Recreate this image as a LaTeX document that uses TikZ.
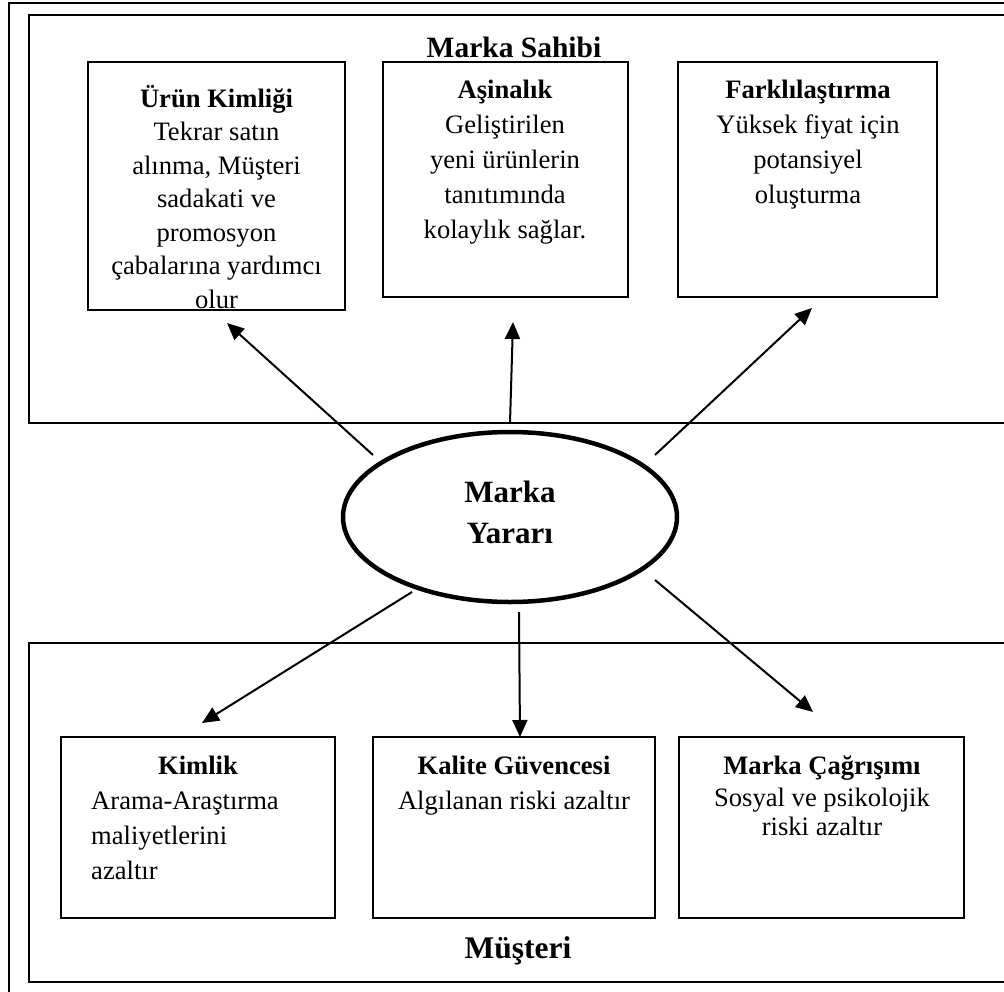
\documentclass[tikz,border=0pt]{standalone}
\usepackage{fontspec}
\setmainfont{Liberation Serif}
\usetikzlibrary{arrows.meta,shapes.geometric}

\tikzset{
  frameline/.style={draw=black, line width=1.8pt},
  box/.style={draw=black, line width=2pt, rectangle, inner sep=0pt, fill=none},
  body/.style={inner sep=0pt, align=center, font=\fontsize{26.6}{35}\selectfont},
  bodyleft/.style={inner sep=0pt, align=left, font=\fontsize{26.6}{35}\selectfont},
  region/.style={inner sep=0pt, font=\bfseries\fontsize{29.5}{35}\selectfont},
  arr/.style={line width=2pt, -{Triangle[length=17pt,width=15pt]}},
}

\begin{document}
\begin{tikzpicture}[x=1pt,y=-1pt]
\useasboundingbox (0,0) rectangle (1004,991);
\fill[white] (0,0) rectangle (1004,991);

% outer frame and the two regions
\draw[frameline] (9,3) rectangle (1020,1000);
\draw[frameline] (29,15) rectangle (1020,423);
\draw[frameline] (29,643) rectangle (1020,982);

\node[region, anchor=base] (owner) at (514,57) {Marka Sahibi};
\node[region, anchor=base, font=\bfseries\fontsize{31.5}{35}\selectfont] (customer) at (518,958) {Müşteri};

% upper boxes
\node[box, minimum width=257pt, minimum height=248pt] (urun) at (216.5,186) {};
\node[box, minimum width=245pt, minimum height=235pt] (asin) at (505.5,179.5) {};
\node[box, minimum width=259pt, minimum height=235pt] (fark) at (807.5,179.5) {};

\node[body, anchor=north, font=\fontsize{26.6}{33.5}\selectfont] (urunT) at (216.5,83.5)
  {\strut\textbf{Ürün Kimliği}\\Tekrar satın\\alınma, Müşteri\\sadakati ve\\promosyon\\çabalarına yardımcı\\olur};
\node[body, anchor=north] (asinT) at (505,74)
  {\strut\textbf{Aşinalık}\\Geliştirilen\\yeni ürünlerin\\tanıtımında\\kolaylık sağlar.};
\node[body, anchor=north] (farkT) at (808,74)
  {\strut\textbf{Farklılaştırma}\\Yüksek fiyat için\\potansiyel\\oluşturma};

% central ellipse
\node[draw=black, line width=4.5pt, ellipse, minimum width=334pt, minimum height=170pt, inner sep=0pt] (benefit) at (510,517) {};
\node[inner sep=0pt, align=center, font=\bfseries\fontsize{31}{41}\selectfont, anchor=north] (benefitT) at (510,473.3)
  {\strut Marka\\Yararı};

% lower boxes
\node[box, minimum width=274pt, minimum height=181pt] (kim) at (198,827.5) {};
\node[box, minimum width=282pt, minimum height=181pt] (kal) at (514,827.5) {};
\node[box, minimum width=285pt, minimum height=181pt] (cag) at (821.5,827.5) {};

\node[body, anchor=north] (kimT) at (198,750) {\strut\textbf{Kimlik}};
\node[bodyleft, anchor=north west] (kimB) at (91,785)
  {\strut Arama-Araştırma\\maliyetlerini\\azaltır};
\node[body, anchor=north] (kalT) at (514,750)
  {\strut\textbf{Kalite Güvencesi}\\Algılanan riski azaltır};
\node[body, anchor=north] (cagT) at (822,749.5)
  {\strut\textbf{Marka Çağrışımı}\\[-3pt]Sosyal ve psikolojik\\[-6pt]riski azaltır};

% arrow ends
\coordinate (u1) at (373,455);  \coordinate (u1e) at (227,323);
\coordinate (u2) at (510,423);  \coordinate (u2e) at (513,322);
\coordinate (u3) at (655,455);  \coordinate (u3e) at (812,308);
\coordinate (d1) at (412,592);  \coordinate (d1e) at (202,723);
\coordinate (d2) at (519,612);  \coordinate (d2e) at (520,737);
\coordinate (d3) at (655,580);  \coordinate (d3e) at (813,712);

\draw[arr] (u1) -- (u1e);
\draw[arr] (u2) -- (u2e);
\draw[arr] (u3) -- (u3e);
\draw[arr] (d1) -- (d1e);
\draw[arr] (d2) -- (d2e);
\draw[arr] (d3) -- (d3e);
\end{tikzpicture}
\end{document}
